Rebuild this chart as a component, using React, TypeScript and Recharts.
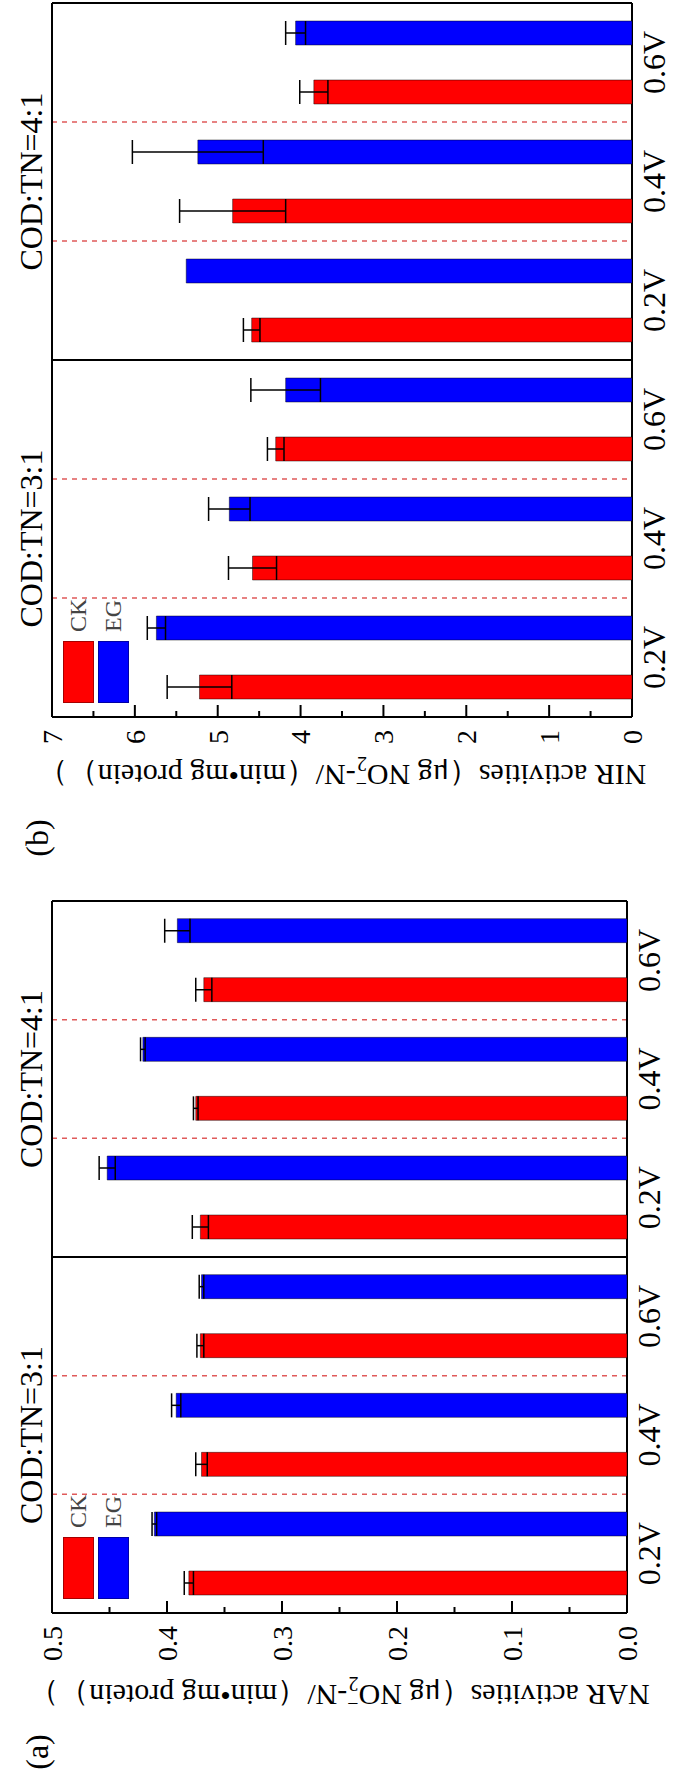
import { Bar, BarChart, CartesianGrid, ErrorBar, Label, Legend, XAxis, YAxis } from "recharts";

// Values. Order: COD:TN=3:1 (0.2V, 0.4V, 0.6V), then COD:TN=4:1.
const categories = ["0.2V", "0.4V", "0.6V", "0.2V", "0.4V", "0.6V"];
const groupLabels = ["COD:TN=3:1", "COD:TN=4:1"];

const narCK = [0.381, 0.37, 0.371, 0.371, 0.375, 0.368];
const narEG = [0.411, 0.392, 0.37, 0.452, 0.421, 0.391];
const narCKErr = [0.004, 0.005, 0.003, 0.007, 0.002, 0.007];
const narEGErr = [0.002, 0.004, 0.002, 0.007, 0.002, 0.011];

const nirCK = [5.22, 4.58, 4.3, 4.59, 4.82, 3.84];
const nirEG = [5.74, 4.86, 4.18, 5.38, 5.24, 4.06];
const nirCKErr = [0.39, 0.29, 0.1, 0.1, 0.64, 0.17];
const nirEGErr = [0.11, 0.25, 0.42, 0, 0.79, 0.12];

const narMajorTicks = [0, 0.1, 0.2, 0.3, 0.4, 0.5];
const narMinorTicks = [0.05, 0.15, 0.25, 0.35, 0.45];
const nirMajorTicks = [0, 1, 2, 3, 4, 5, 6, 7];
const nirMinorTicks = [0.5, 1.5, 2.5, 3.5, 4.5, 5.5, 6.5];

// boundaries, counted in categories from the left of the plot
const categoryDividers = [1, 2, 4, 5];
const groupDividers = [3];

const FONT = '"Liberation Serif", "Times New Roman", serif';
const RED = "#ff0000";
const BLUE = "#0000ff";
const TICK_MARGIN = 13;

interface PanelProps {
  name: string;
  ck: number[];
  eg: number[];
  ckErr: number[];
  egErr: number[];
  yMax: number;
  majorTicks: number[];
  minorTicks: number[];
  decimals: number;
  width: number;
  marginLeft: number;
  marginRight: number;
  xAxisHeight: number;
  titleGap: number;
}

/** Plot box from the props Recharts hands to the grid coordinate generators. */
function plotBox(p: any) {
  const o = p.offset ?? {};
  const left = o.left ?? 0;
  const top = o.top ?? 0;
  const width = o.width ?? p.width - left - (o.right ?? 0);
  const height = o.height ?? p.height - top - (o.bottom ?? 0);
  return { left, top, width, height };
}

const atBoundaries = (ks: number[]) => (p: any) => {
  const b = plotBox(p);
  return ks.map((k) => b.left + (b.width * k) / categories.length);
};

function ValueTick(props: any) {
  const { x, y, payload, majorTicks, decimals } = props;
  const v = Number(payload.value);
  const axisX = x + TICK_MARGIN;
  const isMajor = majorTicks.some((t: number) => Math.abs(t - v) < 1e-9);
  return (
    <g>
      <line x1={axisX} x2={axisX + (isMajor ? 12 : 6)} y1={y} y2={y} stroke="#000" strokeWidth={2} />
      {isMajor && (
        <text x={x} y={y} dy="0.35em" textAnchor="end" fontSize={28} fill="#000">
          {v.toFixed(decimals)}
        </text>
      )}
    </g>
  );
}

function Panel({
  name,
  ck,
  eg,
  ckErr,
  egErr,
  yMax,
  majorTicks,
  minorTicks,
  decimals,
  width,
  marginLeft,
  marginRight,
  xAxisHeight,
  titleGap,
}: PanelProps) {
  const data = categories.map((volt, i) => ({
    volt,
    ck: ck[i],
    eg: eg[i],
    ckErr: ckErr[i],
    egErr: egErr[i],
  }));
  const ticks = [...majorTicks, ...minorTicks].sort((a, b) => a - b);

  const renderTitle = (p: any) => {
    const vb = p.viewBox ?? {};
    const cx = vb.x + vb.width - titleGap;
    const cy = vb.y + vb.height / 2;
    return (
      <text
        x={cx}
        y={cy}
        dy="0.35em"
        transform={`rotate(-90 ${cx} ${cy})`}
        textAnchor="middle"
        fontSize={30}
        fill="#000"
      >
        {name} activities（μg NO
        <tspan dy={8} fontSize={20}>
          2
        </tspan>
        <tspan dx={-10} dy={-20} fontSize={20}>
          −
        </tspan>
        <tspan dy={12}>-N/（min•mg protein））</tspan>
      </text>
    );
  };

  // group captions sit above the plot, one over each half
  const renderGroups = (p: any) => {
    const vb = p.viewBox ?? {};
    return (
      <g>
        {groupLabels.map((g, i) => (
          <text
            key={g}
            x={vb.x + (vb.width * (2 * i + 1)) / (2 * groupLabels.length)}
            y={vb.y - 9}
            textAnchor="middle"
            fontSize={32}
            fill="#000"
          >
            {g}
          </text>
        ))}
      </g>
    );
  };

  return (
    <BarChart
      width={width}
      height={681}
      data={data}
      margin={{ top: 51, right: marginRight, bottom: 14, left: marginLeft }}
      barSize={24}
      barGap={35}
    >
      <CartesianGrid
        horizontal={false}
        fill="none"
        stroke="#e05a5a"
        strokeWidth={1.5}
        strokeDasharray="5 5"
        verticalCoordinatesGenerator={atBoundaries(categoryDividers)}
      />
      <CartesianGrid
        fill="none"
        stroke="#000"
        strokeWidth={2}
        verticalCoordinatesGenerator={atBoundaries([0, ...groupDividers, categories.length])}
        horizontalCoordinatesGenerator={(p: any) => {
          const b = plotBox(p);
          return [b.top, b.top + b.height];
        }}
      />
      <XAxis
        dataKey="volt"
        interval={0}
        tickSize={0}
        tickMargin={10}
        axisLine={false}
        tickLine={false}
        height={xAxisHeight}
        tick={{ fontSize: 32, fill: "#000" }}
      />
      <XAxis
        xAxisId="top"
        dataKey="volt"
        orientation="top"
        height={1}
        tick={false}
        tickLine={false}
        axisLine={false}
      >
        <Label content={renderGroups} />
      </XAxis>
      <YAxis
        type="number"
        domain={[0, yMax]}
        ticks={ticks}
        interval={0}
        width={100}
        tickSize={0}
        tickMargin={TICK_MARGIN}
        axisLine={false}
        tickLine={false}
        tick={(p: any) => <ValueTick {...p} majorTicks={majorTicks} decimals={decimals} />}
      >
        <Label content={renderTitle} />
      </YAxis>
      <Legend
        layout="vertical"
        align="center"
        verticalAlign="middle"
        wrapperStyle={{ left: marginLeft + 100 + 14, top: 63, width: "auto" }}
        content={(p: any) => (
          <div>
            {(p.payload ?? []).map((entry: any) => (
              <div
                key={String(entry.value)}
                style={{ display: "flex", alignItems: "center", height: 31, marginBottom: 4 }}
              >
                <span
                  style={{
                    display: "inline-block",
                    width: 62,
                    height: 31,
                    background: entry.color,
                    boxSizing: "border-box",
                    border: "1px solid rgba(0,0,0,0.35)",
                  }}
                />
                <span style={{ marginLeft: 9, fontSize: 24, color: "#444", fontFamily: FONT }}>
                  {entry.value}
                </span>
              </div>
            ))}
          </div>
        )}
      />
      <Bar dataKey="ck" name="CK" fill={RED} stroke="#000" strokeOpacity={0.45} isAnimationActive={false}>
        <ErrorBar dataKey="ckErr" width={12} stroke="#000" strokeWidth={1.5} direction="y" />
      </Bar>
      <Bar dataKey="eg" name="EG" fill={BLUE} stroke="#000" strokeOpacity={0.45} isAnimationActive={false}>
        <ErrorBar dataKey="egErr" width={12} stroke="#000" strokeWidth={1.5} direction="y" />
      </Bar>
    </BarChart>
  );
}

export default function App() {
  return (
    <div
      style={{
        position: "absolute",
        left: 0,
        top: 0,
        width: 681,
        height: 1787,
        overflow: "hidden",
        background: "#fff",
      }}
    >
      {/* the original figure is landscape; it is shown turned a quarter turn counter-clockwise */}
      <div
        style={{
          position: "absolute",
          left: 0,
          top: 1787,
          width: 1787,
          height: 681,
          transform: "rotate(-90deg)",
          transformOrigin: "0 0",
          fontFamily: FONT,
          background: "#fff",
        }}
      >
        <div style={{ position: "absolute", left: 0, top: 0 }}>
          <Panel
            name="NAR"
            ck={narCK}
            eg={narEG}
            ckErr={narCKErr}
            egErr={narEGErr}
            yMax={0.5}
            majorTicks={narMajorTicks}
            minorTicks={narMinorTicks}
            decimals={1}
            width={900}
            marginLeft={74}
            marginRight={14}
            xAxisHeight={40}
            titleGap={82}
          />
        </div>
        <div style={{ position: "absolute", left: 900, top: 0 }}>
          <Panel
            name="NIR"
            ck={nirCK}
            eg={nirEG}
            ckErr={nirCKErr}
            egErr={nirEGErr}
            yMax={7}
            majorTicks={nirMajorTicks}
            minorTicks={nirMinorTicks}
            decimals={0}
            width={887}
            marginLeft={70}
            marginRight={3}
            xAxisHeight={35}
            titleGap={58}
          />
        </div>
        <div
          style={{
            position: "absolute",
            left: 35,
            top: 37,
            transform: "translate(-50%, -50%)",
            fontSize: 32,
          }}
        >
          (a)
        </div>
        <div
          style={{
            position: "absolute",
            left: 949,
            top: 37,
            transform: "translate(-50%, -50%)",
            fontSize: 32,
          }}
        >
          (b)
        </div>
      </div>
    </div>
  );
}
